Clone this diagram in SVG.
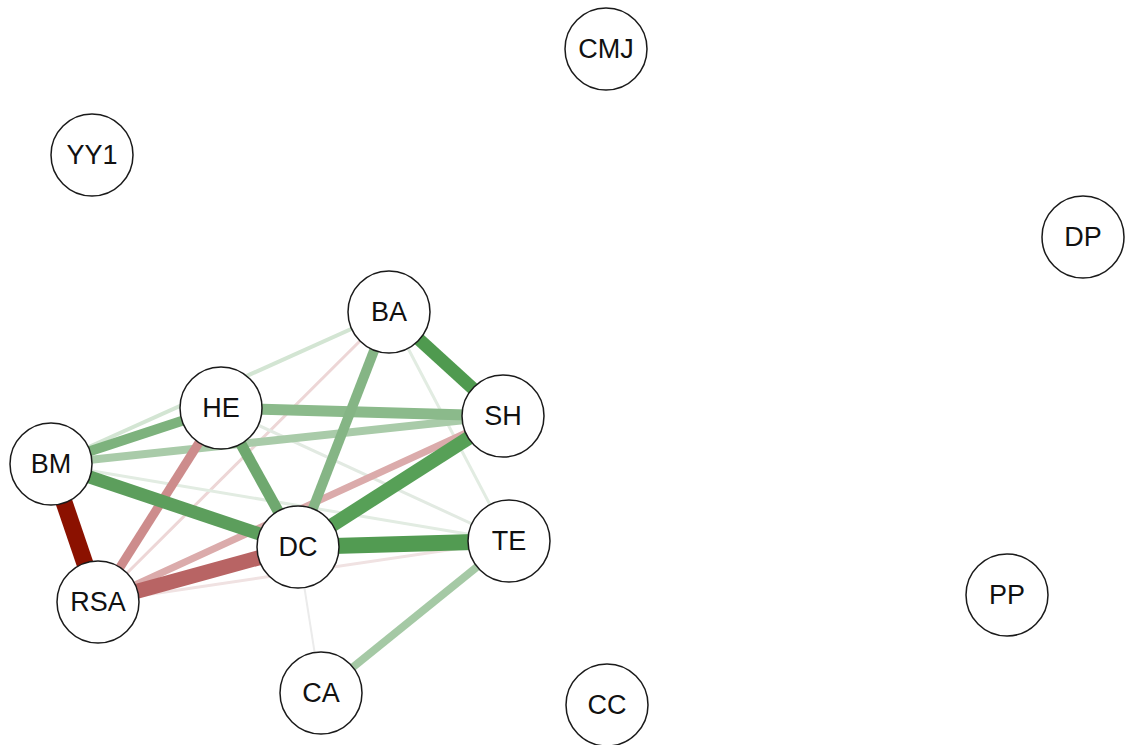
<svg xmlns="http://www.w3.org/2000/svg" width="1132" height="745" viewBox="0 0 1132 745">
<style>
.n circle{fill:#fff;stroke:#1a1a1a;stroke-width:1.5}
.n text{font-family:"Liberation Sans",Arial,sans-serif;font-size:27px;fill:#111;text-anchor:middle;dominant-baseline:central}
#edges line{stroke-linecap:butt}
</style>
<rect width="1132" height="745" fill="#fff"/>
<g id="edges">
<line x1="98" y1="602" x2="389" y2="312" stroke="#EDD6D6" stroke-width="3"/>
<line x1="98" y1="602" x2="509" y2="541" stroke="#F0E2E2" stroke-width="3"/>
<line x1="51" y1="464" x2="509" y2="541" stroke="#E2ECE2" stroke-width="3"/>
<line x1="221" y1="408" x2="509" y2="541" stroke="#E2EAE2" stroke-width="3"/>
<line x1="389" y1="312" x2="509" y2="541" stroke="#E2ECE2" stroke-width="3"/>
<line x1="298" y1="547" x2="321" y2="693" stroke="#EBEBEB" stroke-width="2"/>
<line x1="51" y1="464" x2="389" y2="312" stroke="#D3E5D3" stroke-width="4"/>
<line x1="98" y1="602" x2="503" y2="416" stroke="#DBABAB" stroke-width="7"/>
<line x1="51" y1="464" x2="503" y2="416" stroke="#A9CBA9" stroke-width="8"/>
<line x1="509" y1="541" x2="321" y2="693" stroke="#A5C9A5" stroke-width="8"/>
<line x1="98" y1="602" x2="221" y2="408" stroke="#CD8C8C" stroke-width="9"/>
<line x1="51" y1="464" x2="221" y2="408" stroke="#7DB27D" stroke-width="10"/>
<line x1="221" y1="408" x2="503" y2="416" stroke="#8BBA8B" stroke-width="11"/>
<line x1="389" y1="312" x2="298" y2="547" stroke="#85B585" stroke-width="10"/>
<line x1="221" y1="408" x2="298" y2="547" stroke="#6FA86F" stroke-width="11"/>
<line x1="51" y1="464" x2="298" y2="547" stroke="#5C9E5C" stroke-width="13"/>
<line x1="389" y1="312" x2="503" y2="416" stroke="#4F9A4F" stroke-width="13"/>
<line x1="503" y1="416" x2="298" y2="547" stroke="#57A057" stroke-width="14"/>
<line x1="298" y1="547" x2="509" y2="541" stroke="#529B52" stroke-width="16"/>
<line x1="98" y1="602" x2="298" y2="547" stroke="#B86464" stroke-width="15"/>
<line x1="51" y1="464" x2="98" y2="602" stroke="#8B1100" stroke-width="17"/>
</g>
<g id="CMJ" class="n"><circle cx="606" cy="49" r="41"/><text x="606" y="49">CMJ</text></g>
<g id="YY1" class="n"><circle cx="92" cy="155" r="41"/><text x="92" y="155">YY1</text></g>
<g id="DP" class="n"><circle cx="1083" cy="237" r="41"/><text x="1083" y="237">DP</text></g>
<g id="BA" class="n"><circle cx="389" cy="312" r="41"/><text x="389" y="312">BA</text></g>
<g id="HE" class="n"><circle cx="221" cy="408" r="41"/><text x="221" y="408">HE</text></g>
<g id="SH" class="n"><circle cx="503" cy="416" r="41"/><text x="503" y="416">SH</text></g>
<g id="BM" class="n"><circle cx="51" cy="464" r="41"/><text x="51" y="464">BM</text></g>
<g id="DC" class="n"><circle cx="298" cy="547" r="41"/><text x="298" y="547">DC</text></g>
<g id="TE" class="n"><circle cx="509" cy="541" r="41"/><text x="509" y="541">TE</text></g>
<g id="RSA" class="n"><circle cx="98" cy="602" r="41"/><text x="98" y="602">RSA</text></g>
<g id="PP" class="n"><circle cx="1007" cy="595" r="41"/><text x="1007" y="595">PP</text></g>
<g id="CA" class="n"><circle cx="321" cy="693" r="41"/><text x="321" y="693">CA</text></g>
<g id="CC" class="n"><circle cx="607" cy="705" r="41"/><text x="607" y="705">CC</text></g>
</svg>
